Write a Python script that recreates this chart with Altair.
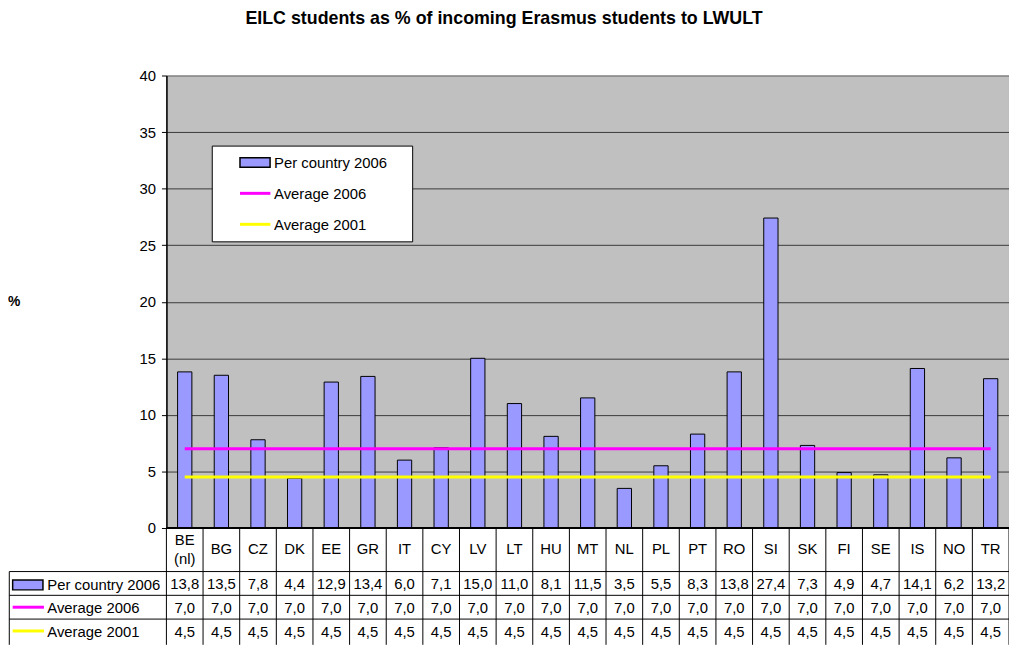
import altair as alt
import pandas as pd

title_text = "EILC students as % of incoming Erasmus students to LWULT"
y_title = "%"
series_names = ["Per country 2006", "Average 2006", "Average 2001"]
categories = ["BE\n(nl)", "BG", "CZ", "DK", "EE", "GR", "IT", "CY", "LV", "LT", "HU", "MT",
              "NL", "PL", "PT", "RO", "SI", "SK", "FI", "SE", "IS", "NO", "TR"]
per_country_2006 = [13.8, 13.5, 7.8, 4.4, 12.9, 13.4, 6.0, 7.1, 15.0, 11.0, 8.1, 11.5,
                    3.5, 5.5, 8.3, 13.8, 27.4, 7.3, 4.9, 4.7, 14.1, 6.2, 13.2]
average_2006 = [7.0, 7.0, 7.0, 7.0, 7.0, 7.0, 7.0, 7.0, 7.0, 7.0, 7.0, 7.0,
                7.0, 7.0, 7.0, 7.0, 7.0, 7.0, 7.0, 7.0, 7.0, 7.0, 7.0]
average_2001 = [4.5, 4.5, 4.5, 4.5, 4.5, 4.5, 4.5, 4.5, 4.5, 4.5, 4.5, 4.5,
                4.5, 4.5, 4.5, 4.5, 4.5, 4.5, 4.5, 4.5, 4.5, 4.5, 4.5]
y_ticks = [0, 5, 10, 15, 20, 25, 30, 35, 40]

FONT = "Liberation Sans"
BAR_FILL = "#9999FF"
MAGENTA = "#FF00FF"
YELLOW = "#FFFF00"

W, H = 851, 457

def fmt(v):
    return f"{v:.1f}".replace(".", ",")

keys = [c.replace("\n", " ") for c in categories]
df = pd.DataFrame({
    "key": keys,
    "label": categories,
    "multi": ["\n" in c for c in categories],
    "per": per_country_2006,
    "avg06": average_2006,
    "avg01": average_2001,
    "per_s": [fmt(v) for v in per_country_2006],
    "avg06_s": [fmt(v) for v in average_2006],
    "avg01_s": [fmt(v) for v in average_2001],
})
one = pd.DataFrame({"k": [0]})

xscale = alt.Scale(paddingInner=0, paddingOuter=0)

def X(band=None):
    if band is None:
        return alt.X("key:N", sort=keys, scale=xscale, axis=None)
    return alt.X("key:N", sort=keys, scale=xscale, axis=None, bandPosition=band)

yaxis = alt.Axis(
    values=y_ticks, title=None, grid=True,
    gridColor={"condition": {"test": "datum.value >= 40", "value": "#808080"}, "value": "#3a3a3a"},
    gridWidth=1, domainColor="#000000", domainWidth=1.5, tickColor="#000000", tickSize=5,
    labelFont=FONT, labelFontSize=15, labelColor="#000000", labelPadding=6,
)
yscale = alt.Scale(domain=[0, 40], nice=False, zero=True)

def Y(field):
    return alt.Y(field, scale=yscale, axis=yaxis)

bars = alt.Chart(df).mark_bar(
    fill=BAR_FILL, stroke="#000000", strokeWidth=1, width=alt.RelativeBandSize(0.39)
).encode(x=X(), y=Y("per:Q"))

line06 = alt.Chart(df).mark_line(color=MAGENTA, strokeWidth=3).encode(x=X(), y=Y("avg06:Q"))
line01 = alt.Chart(df).mark_line(color=YELLOW, strokeWidth=3).encode(x=X(), y=Y("avg01:Q"))

base_rule = alt.Chart(one).mark_rule(color="#000000", strokeWidth=2).encode(
    x=alt.value(0), x2=alt.value(W), y=alt.value(H))

# ---- data table below the plot ----
TB = 575  # bottom of table (plot coords)
LEFT = -158.7
vlines = alt.Chart(df).mark_rule(color="#000000", strokeWidth=1).encode(
    x=X(0), y=alt.value(H), y2=alt.value(TB))
vlast = alt.Chart(one).mark_rule(color="#000000", strokeWidth=1).encode(
    x=alt.value(W), y=alt.value(H), y2=alt.value(TB))
hl = [alt.Chart(one).mark_rule(color="#000000", strokeWidth=1).encode(
    x=alt.value(LEFT), x2=alt.value(W), y=alt.value(yy)) for yy in (501, 525, 549)]
lborder = alt.Chart(one).mark_rule(color="#000000", strokeWidth=1).encode(
    x=alt.value(LEFT), y=alt.value(501), y2=alt.value(TB))

cat_single = alt.Chart(df).transform_filter("!datum.multi").mark_text(
    font=FONT, fontSize=15, color="#000000", baseline="middle"
).encode(x=X(), y=alt.value(478.5), text="label:N")
cat_multi = alt.Chart(df).transform_filter("datum.multi").mark_text(
    font=FONT, fontSize=15, color="#000000", lineBreak="\n", lineHeight=19, baseline="middle"
).encode(x=X(), y=alt.value(469), text="label:N")

def row_text(field, yy):
    return alt.Chart(df).mark_text(font=FONT, fontSize=15, color="#000000", baseline="middle").encode(
        x=X(), y=alt.value(yy), text=f"{field}:N")

rows = [row_text("per_s", 514), row_text("avg06_s", 538), row_text("avg01_s", 562)]

def txt(s, x, y, size=15, bold=False, align="left"):
    return alt.Chart(one).mark_text(
        font=FONT, fontSize=size, fontWeight="bold" if bold else "normal", color="#000000",
        align=align, baseline="middle"
    ).encode(x=alt.value(x), y=alt.value(y), text=alt.value(s))

def key_rect(x, x2, y, y2):
    return alt.Chart(one).mark_rect(fill=BAR_FILL, stroke="#000000", strokeWidth=1.5).encode(
        x=alt.value(x), x2=alt.value(x2), y=alt.value(y), y2=alt.value(y2))

def key_line(x, x2, y, color):
    return alt.Chart(one).mark_rule(color=color, strokeWidth=3).encode(
        x=alt.value(x), x2=alt.value(x2), y=alt.value(y))

table_legend = [
    key_rect(-155.3, -124.7, 509.5, 519.5), txt(series_names[0], -120.3, 514.5),
    key_line(-155.3, -123.7, 537, MAGENTA), txt(series_names[1], -120.3, 538),
    key_line(-155.3, -123.7, 561, YELLOW), txt(series_names[2], -120.3, 562),
]

# ---- legend box inside plot ----
legend_box = alt.Chart(one).mark_rect(fill="#FFFFFF", stroke="#000000", strokeWidth=1).encode(
    x=alt.value(46.3), x2=alt.value(248.7), y=alt.value(71.3), y2=alt.value(168))
legend_items = [
    key_rect(74.3, 104.7, 83, 92.7), txt(series_names[0], 108.7, 88),
    key_line(74.3, 105, 119, MAGENTA), txt(series_names[1], 108.7, 120),
    key_line(74.3, 105, 150.3, YELLOW), txt(series_names[2], 108.7, 151.5),
]

title = txt(title_text, 341, -57, size=18, bold=True, align="center")
ytitle = txt(y_title, -160, 229, size=14, bold=True, align="left")

chart = alt.layer(
    bars, line06, line01, base_rule,
    vlines, vlast, *hl, lborder, cat_single, cat_multi, *rows, *table_legend,
    legend_box, *legend_items, title, ytitle,
).properties(
    width=W, height=H,
    autosize=alt.AutoSizeParams(type="none"),
    padding={"left": 160, "top": 65, "right": 0, "bottom": 116},
).configure(
    background="#FFFFFF"
).configure_view(
    fill="#C0C0C0", stroke="#808080", strokeWidth=1
)

chart.save("out.html", embed_options={"renderer": "svg", "actions": False})
